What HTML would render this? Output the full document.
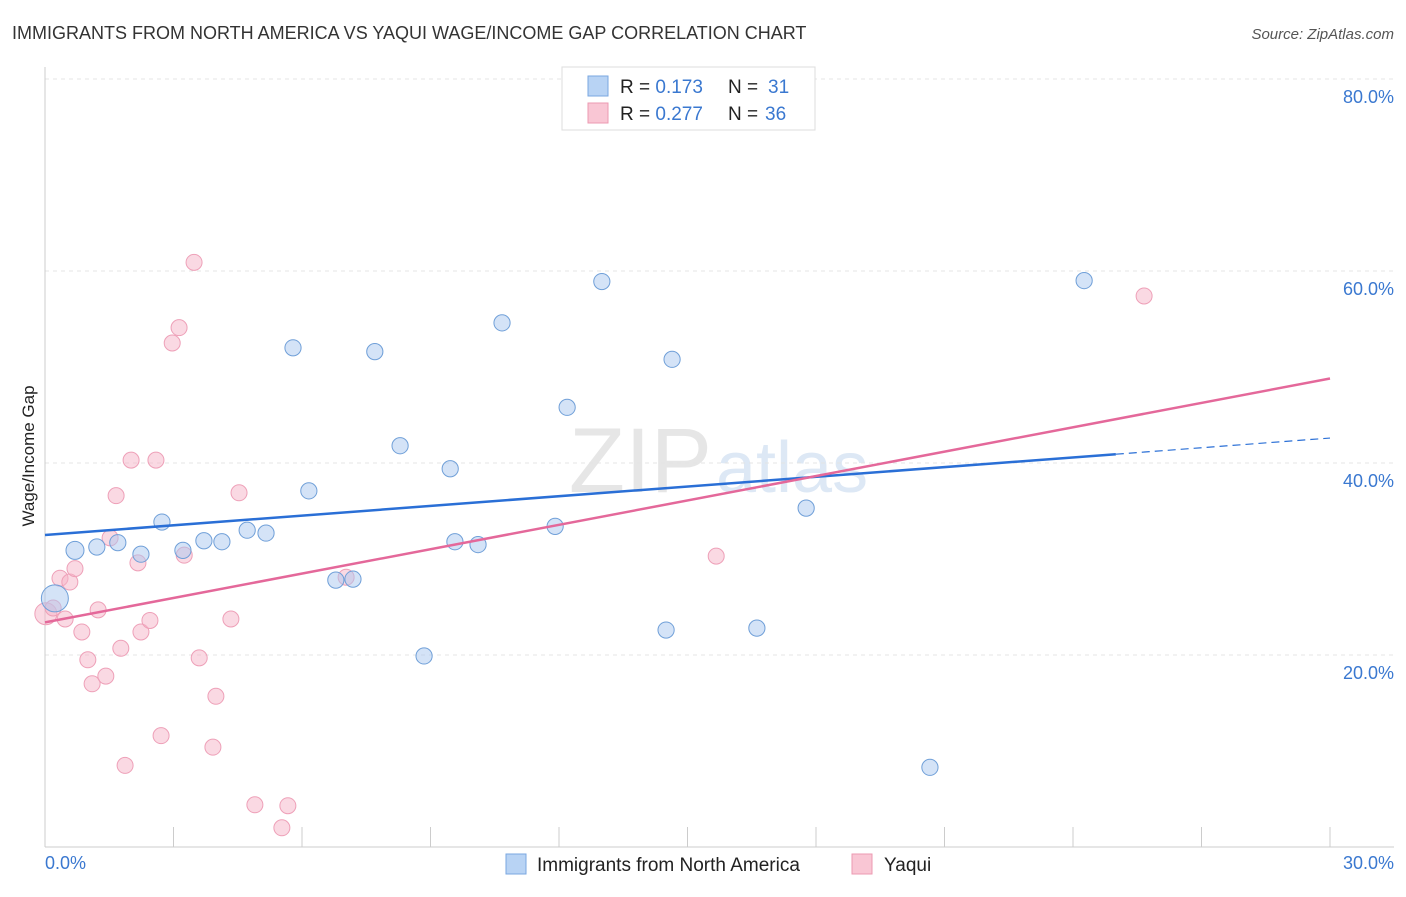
<!DOCTYPE html>
<html><head><meta charset="utf-8"><style>
body{margin:0;background:#fff;font-family:"Liberation Sans",sans-serif;}
svg text{font-family:"Liberation Sans",sans-serif;}
</style></head><body>
<svg id="c" width="1406" height="892" xmlns="http://www.w3.org/2000/svg">
<text x="12" y="39" font-size="18" fill="#333">IMMIGRANTS FROM NORTH AMERICA VS YAQUI WAGE/INCOME GAP CORRELATION CHART</text>
<text x="1394" y="39" font-size="15" fill="#555" font-style="italic" text-anchor="end">Source: ZipAtlas.com</text>
<text x="712" y="492" font-size="92" fill="#e6e6e6" text-anchor="end" font-family="Liberation Serif">ZIP</text>
<text x="716" y="492" font-size="72" fill="#dde8f5">atlas</text>
<g id="grid"></g>
<g id="pts"></g>
<g id="lines"></g>
<text transform="translate(34,456) rotate(-90)" font-size="17" fill="#222" text-anchor="middle">Wage/Income Gap</text>
<text x="45" y="869" font-size="18" fill="#3a78d0">0.0%</text>
<text x="1394" y="869" font-size="18" fill="#3a78d0" text-anchor="end">30.0%</text>
<g>
<rect x="562" y="67" width="253" height="63" fill="#fff" stroke="#ddd"/>
<rect x="588" y="76" width="20" height="20" fill="#b8d3f4" stroke="#7aa7e0"/>
<rect x="588" y="103" width="20" height="20" fill="#f9c6d4" stroke="#ec9ab2"/>
<text x="620" y="93" font-size="19" fill="#222">R = <tspan fill="#3a78d0">0.173</tspan><tspan x="728">N = </tspan><tspan fill="#3a78d0" x="768">31</tspan></text>
<text x="620" y="120" font-size="19" fill="#222">R = <tspan fill="#3a78d0">0.277</tspan><tspan x="728">N = </tspan><tspan fill="#3a78d0" x="765">36</tspan></text>
</g>
<g>
<rect x="506" y="854" width="20" height="20" fill="#b8d3f4" stroke="#7aa7e0"/>
<text x="537" y="871" font-size="19" fill="#222">Immigrants from North America</text>
<rect x="852" y="854" width="20" height="20" fill="#f9c6d4" stroke="#ec9ab2"/>
<text x="884" y="871" font-size="19" fill="#222">Yaqui</text>
</g>
</svg>
<script>
const yTicks=[20,40,60,80];
const xTicks=[3,6,9,12,15,18,21,24,27,30];
const blueX=[0.23,0.7,1.21,1.7,2.24,2.73,3.22,3.71,4.13,4.72,5.16,5.79,6.16,6.79,7.19,7.7,8.29,8.85,9.46,9.57,10.11,10.67,11.91,12.19,13.0,14.5,14.64,16.62,17.77,20.66,24.26];
const blueY=[25.9,30.9,31.25,31.7,30.5,33.85,30.9,31.9,31.8,33.0,32.7,52.0,37.1,27.8,27.9,51.6,41.8,19.9,39.4,31.8,31.5,54.6,33.4,45.8,58.9,22.6,50.8,22.8,35.3,8.3,59.0];
const blueR=[15,10,9,9,9,9,9,9,9,9,9,9,9,9,9,9,9,9,9,9,9,9,9,9,9,9,9,9,9,9,9];
const pinkX=[0.02,0.19,0.35,0.47,0.58,0.7,0.86,1.0,1.1,1.24,1.42,1.52,1.66,1.77,1.87,2.01,2.17,2.24,2.45,2.59,2.71,2.97,3.13,3.25,3.48,3.6,3.92,3.99,4.34,4.53,4.9,5.53,5.67,7.03,15.67,25.66];
const pinkY=[24.3,24.9,28.0,23.75,27.6,29.0,22.4,19.5,17.0,24.7,17.8,32.2,36.6,20.7,8.5,40.3,29.6,22.4,23.6,40.3,11.6,52.5,54.1,30.4,60.9,19.7,10.4,15.7,23.75,36.9,4.4,2.0,4.3,28.1,30.3,57.4];
const blueTrend=[32.5,42.6];
const pinkTrend=[23.4,48.8];
const NS="http://www.w3.org/2000/svg";
const sx=v=>45+v*(1330-45)/30;
const sy=v=>847-v*9.6;
function mk(tag,attrs,parent){const e=document.createElementNS(NS,tag);for(const k in attrs)e.setAttribute(k,attrs[k]);parent.appendChild(e);return e;}
const grid=document.getElementById('grid');
yTicks.forEach(t=>{
 const l=mk('line',{x1:45,y1:sy(t),x2:1394,y2:sy(t),stroke:'#e4e4e4','stroke-dasharray':'4,4'},grid);
 
 
 const tx=mk('text',{x:1394,y:sy(t)+24,'font-size':18,fill:'#3a78d0','text-anchor':'end'},grid);
 tx.textContent=t.toFixed(1)+'%';
 
 
});
const ax=mk('line',{x1:45,y1:67,x2:45,y2:847,stroke:'#ccc'},grid);


const bx=mk('line',{x1:45,y1:847,x2:1394,y2:847,stroke:'#ccc'},grid);


xTicks.forEach(t=>{
 const l=mk('line',{x1:sx(t),y1:827,x2:sx(t),y2:847,stroke:'#ccc'},grid);
 
 
});
const pts=document.getElementById('pts');
pinkX.forEach((x,i)=>{
 const c=mk('circle',{cx:sx(x),cy:sy(pinkY[i]),r:i==0?11:8,fill:'rgba(246,180,200,0.5)',stroke:'#eea0b8','stroke-width':1},pts);
 
 
});
blueX.forEach((x,i)=>{
 const c=mk('circle',{cx:sx(x),cy:sy(blueY[i]),r:blueR[i]*0.9,fill:'rgba(170,200,240,0.5)',stroke:'#6f9fd8','stroke-width':1},pts);
 
 
});
const lines=document.getElementById('lines');
const bAt=x=>blueTrend[0]+(blueTrend[1]-blueTrend[0])*x/30;
const l1=mk('line',{x1:sx(0),y1:sy(bAt(0)),x2:sx(25),y2:sy(bAt(25)),stroke:'#2a6fd6','stroke-width':2.5},lines);


const l2=mk('line',{x1:sx(25),y1:sy(bAt(25)),x2:sx(30),y2:sy(bAt(30)),stroke:'#2a6fd6','stroke-width':1.2,'stroke-dasharray':'8,5'},lines);


const l3=mk('line',{x1:sx(0),y1:sy(pinkTrend[0]),x2:sx(30),y2:sy(pinkTrend[1]),stroke:'#e4689a','stroke-width':2.5},lines);


</script>
</body></html>
